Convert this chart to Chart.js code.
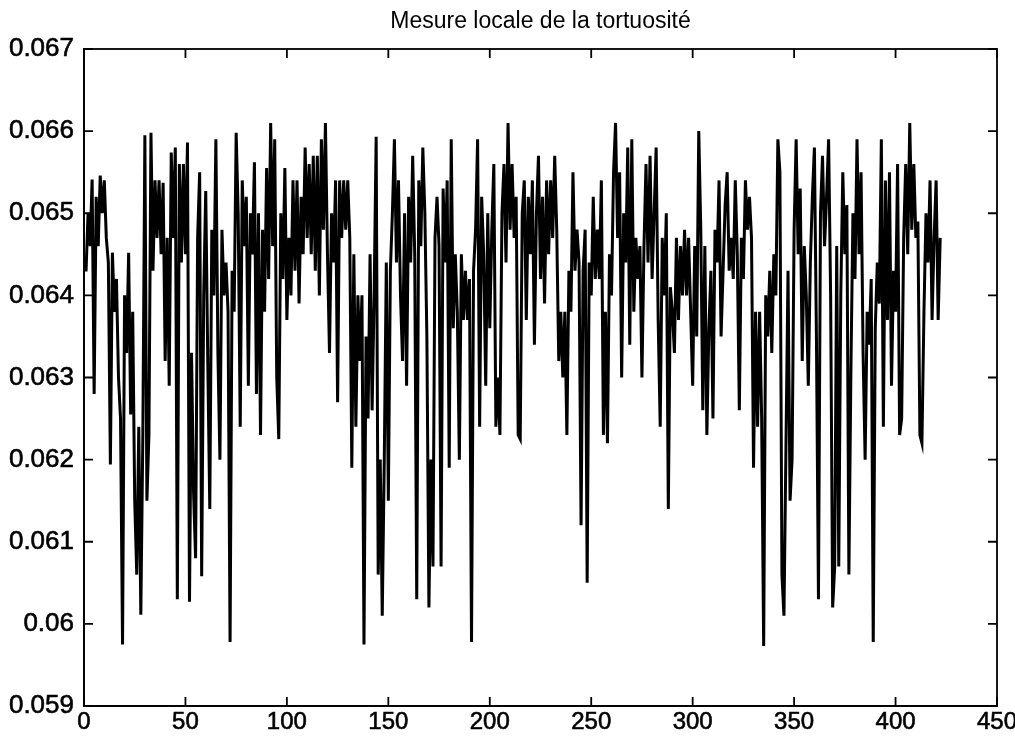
<!DOCTYPE html>
<html>
<head>
<meta charset="utf-8">
<script src="https://cdn.jsdelivr.net/npm/chart.js@4.4.1/dist/chart.umd.min.js"></script>
<style>
  html, body { margin: 0; padding: 0; background: #ffffff; }
  #wrap { width: 1015px; height: 738px; }
</style>
</head>
<body>
<div id="wrap"><canvas id="c" width="1015" height="738"></canvas></div>
<script>
// Titre et graduations
const titleText = 'Mesure locale de la tortuosité';
const xTicks = [0, 50, 100, 150, 200, 250, 300, 350, 400, 450];
const yTicks = [0.059, 0.060, 0.061, 0.062, 0.063, 0.064, 0.065, 0.066, 0.067];

// Mesure locale de la tortuosité, échantillon par échantillon (indices 1..422)
const seg1 = [0.06429,0.06500,0.06460,0.06541,0.06280,0.06520,0.06460,0.06546,0.06500,0.06540,
  0.06470,0.06440,0.06194,0.06452,0.06380,0.06420,0.06300,0.06250,0.05975,0.06400,
  0.06330,0.06452,0.06255,0.06380,0.06150,0.06060,0.06240,0.06011,0.06230,0.06595,
  0.06150,0.06230,0.06598,0.06430,0.06540,0.06470,0.06540];
const seg2 = [0.06450,0.06537,0.06320,0.06470,0.06290,0.06574,0.06470,0.06580,0.06030,0.06560,
  0.06440,0.06560,0.06450,0.06586,0.06027,0.06330,0.06160,0.06080,0.06470,0.06550,
  0.06058,0.06400,0.06527,0.06320,0.06140,0.06480,0.06400,0.06590,0.06330,0.06200,
  0.06480,0.06400,0.06440,0.06380,0.05978];
const seg3 = [0.06430,0.06380,0.06598,0.06500,0.06240,0.06540,0.06460,0.06520,0.06290,0.06500,
  0.06450,0.06562,0.06280,0.06500,0.06230,0.06480,0.06380,0.06555,0.06420,0.06610,
  0.06460,0.06590,0.06300,0.06225,0.06500,0.06420,0.06555,0.06370,0.06470,0.06400,
  0.06540,0.06430,0.06540,0.06390,0.06520,0.06450,0.06580,0.06470,0.06560];
const seg4 = [0.06450,0.06570,0.06430,0.06570,0.06400,0.06590,0.06480,0.06610,0.06450,0.06330,
  0.06500,0.06440,0.06540,0.06270,0.06540,0.06470,0.06540,0.06480,0.06540,0.06470,
  0.06190,0.06450,0.06240,0.06400,0.06320,0.06400,0.05975,0.06350,0.06250,0.06450,
  0.06260,0.06400,0.06593,0.06060,0.06200,0.06010];
const seg5 = [0.06200,0.06440,0.06150,0.06430,0.06500,0.06590,0.06440,0.06540,0.06400,0.06320,
  0.06500,0.06290,0.06520,0.06440,0.06570,0.06450,0.06030,0.06540,0.06460,0.06580,
  0.06500,0.06350,0.06020,0.06200,0.06070,0.06470,0.06520,0.06460,0.06070,0.06530,
  0.06440,0.06540,0.06190,0.06590,0.06360,0.06450,0.06380,0.06200];
const seg6 = [0.06450,0.06370,0.06430,0.06370,0.06420,0.05978,0.06430,0.06480,0.06590,0.06240,
  0.06520,0.06450,0.06290,0.06500,0.06360,0.06480,0.06560,0.06240,0.06300,0.06230,
  0.06500,0.06560,0.06440,0.06610,0.06480,0.06560,0.06470,0.06520,0.06230,0.06225,
  0.06500,0.06540,0.06370,0.06520,0.06450,0.06540];
const seg7 = [0.06340,0.06500,0.06570,0.06420,0.06520,0.06390,0.06540,0.06450,0.06540,0.06470,
  0.06570,0.06480,0.06320,0.06380,0.06300,0.06380,0.06230,0.06430,0.06380,0.06550,
  0.06430,0.06480,0.06440,0.06120,0.06430,0.06480,0.06050,0.06440,0.06400,0.06520,
  0.06420,0.06480,0.06420,0.06540,0.06230,0.06380,0.06220,0.06450];
const seg8 = [0.06400,0.06550,0.06610,0.06470,0.06550,0.06300,0.06500,0.06440,0.06580,0.06340,
  0.06590,0.06380,0.06470,0.06420,0.06460,0.06300,0.06460,0.06560,0.06440,0.06570,
  0.06420,0.06500,0.06580,0.06370,0.06240,0.06470,0.06400,0.06500,0.06140,0.06410,
  0.06380,0.06330,0.06470,0.06370,0.06460,0.06400,0.06480];
const seg9 = [0.06400,0.06470,0.06380,0.06290,0.06460,0.06350,0.06600,0.06480,0.06260,0.06460,
  0.06230,0.06360,0.06430,0.06250,0.06480,0.06440,0.06540,0.06350,0.06430,0.06510,
  0.06550,0.06430,0.06470,0.06420,0.06540,0.06450,0.06260,0.06470,0.06420,0.06540,
  0.06480,0.06520,0.06470,0.06190,0.06380,0.06240,0.06380];
const seg10 = [0.06250,0.05973,0.06400,0.06350,0.06430,0.06330,0.06450,0.06400,0.06590,0.06550,
  0.06060,0.06010,0.06220,0.06430,0.06150,0.06200,0.06480,0.06590,0.06450,0.06530,
  0.06320,0.06460,0.06400,0.06290,0.06440,0.06520,0.06580,0.06350,0.06030,0.06500,
  0.06570,0.06460,0.06520,0.06590,0.06400,0.06020,0.06070];
const seg11 = [0.06460,0.06070,0.06400,0.06550,0.06450,0.06510,0.06060,0.06310,0.06500,0.06420,
  0.06590,0.06450,0.06550,0.06330,0.06200,0.06380,0.06340,0.06420,0.05978,0.06360,
  0.06440,0.06390,0.06590,0.06240,0.06540,0.06370,0.06550,0.06290,0.06430,0.06380,
  0.06560,0.06230,0.06250,0.06470,0.06560,0.06450,0.06610,0.06480,0.06560,0.06470,
  0.06490,0.06230,0.06220,0.06380,0.06500,0.06440,0.06540,0.06370,0.06470,0.06540,
  0.06370,0.06470];

const tortuosite = [].concat(seg1, seg2, seg3, seg4, seg5, seg6, seg7, seg8, seg9, seg10, seg11);
const points = tortuosite.map((v, i) => ({ x: i + 1, y: v }));

const FONT = '"Liberation Sans", Arial, Helvetica, sans-serif';

// Cadre fermé et graduations intérieures sur les quatre côtés
const boxPlugin = {
  id: 'boxTicks',
  afterDatasetsDraw(chart) {
    const { ctx, chartArea: a, scales: { x, y } } = chart;
    const len = 9;
    ctx.save();
    ctx.strokeStyle = '#000';
    ctx.lineWidth = 1.8;
    ctx.strokeRect(a.left, a.top, a.right - a.left, a.bottom - a.top);
    ctx.beginPath();
    xTicks.forEach(v => {
      const px = x.getPixelForValue(v);
      ctx.moveTo(px, a.bottom); ctx.lineTo(px, a.bottom - len);
      ctx.moveTo(px, a.top); ctx.lineTo(px, a.top + len);
    });
    yTicks.forEach(v => {
      const py = y.getPixelForValue(v);
      ctx.moveTo(a.left, py); ctx.lineTo(a.left + len, py);
      ctx.moveTo(a.right, py); ctx.lineTo(a.right - len, py);
    });
    ctx.stroke();
    ctx.restore();
  }
};

new Chart(document.getElementById('c').getContext('2d'), {
  type: 'line',
  data: {
    datasets: [{
      data: points,
      borderColor: '#000000',
      borderWidth: 3,
      pointRadius: 0,
      tension: 0,
      fill: false
    }]
  },
  options: {
    responsive: false,
    animation: false,
    events: [],
    layout: { padding: { left: 0, right: 18, top: 0, bottom: 0 } },
    plugins: {
      legend: { display: false },
      tooltip: { enabled: false },
      title: {
        display: true,
        text: titleText,
        fullSize: false,
        color: '#000',
        font: { family: FONT, size: 23, weight: 'normal', lineHeight: 1.2 },
        padding: { top: 8, bottom: 13.4 }
      }
    },
    scales: {
      x: {
        type: 'linear',
        position: 'bottom',
        min: 0,
        max: 450,
        afterBuildTicks: s => { s.ticks = xTicks.map(v => ({ value: v })); },
        afterFit: s => { s.height = 32; s.paddingLeft = 0; s.paddingRight = 0; },
        grid: { display: false, drawTicks: false },
        border: { display: true, color: '#000', width: 1.8 },
        ticks: {
          padding: 2,
          color: '#000',
          textStrokeColor: '#000',
          textStrokeWidth: 0.6,
          maxRotation: 0,
          autoSkip: false,
          font: { family: FONT, size: 24 },
          callback: v => String(v)
        }
      },
      y: {
        type: 'linear',
        min: 0.059,
        max: 0.067,
        afterBuildTicks: s => { s.ticks = yTicks.map(v => ({ value: v })); },
        afterFit: s => { s.width = 84; s.paddingTop = 0; s.paddingBottom = 0; },
        grid: { display: false, drawTicks: false },
        border: { display: true, color: '#000', width: 1.8 },
        ticks: {
          padding: 10,
          color: '#000',
          textStrokeColor: '#000',
          textStrokeWidth: 0.6,
          autoSkip: false,
          font: { family: FONT, size: 26 },
          callback: v => String(Number(Number(v).toFixed(3)))
        }
      }
    }
  },
  plugins: [boxPlugin]
});
</script>
</body>
</html>
